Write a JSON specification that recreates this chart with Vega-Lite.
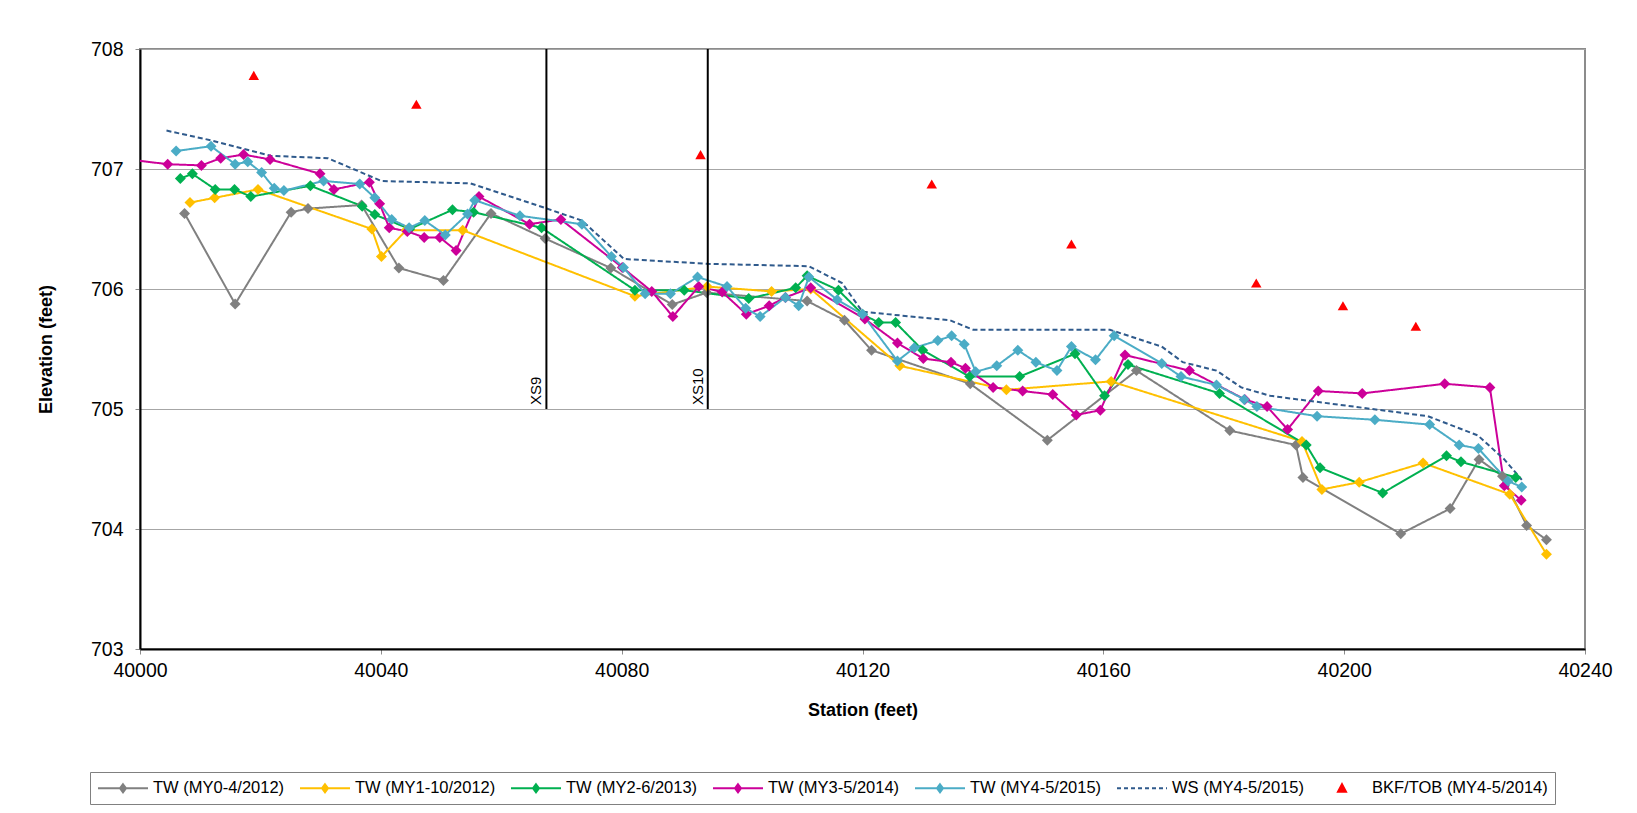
{
  "$schema": "https://vega.github.io/schema/vega-lite/v6.json",
  "width": 1445,
  "height": 600,
  "autosize": {"type": "none"},
  "padding": {"left": 140, "top": 49, "right": 52, "bottom": 164},
  "background": "white",
  "config": {
    "font": "Liberation Sans",
    "view": {"stroke": "#8c8c8c", "strokeWidth": 2},
    "axis": {"labelFont": "Liberation Sans", "titleFont": "Liberation Sans", "labelColor": "black", "titleColor": "black"}
  },
  "datasets": {
    "pts": [
      {"series": "TW (MY0-4/2012)", "station": 40007.4, "elev": 706.63},
      {"series": "TW (MY0-4/2012)", "station": 40015.8, "elev": 705.875},
      {"series": "TW (MY0-4/2012)", "station": 40025.1, "elev": 706.64},
      {"series": "TW (MY0-4/2012)", "station": 40027.9, "elev": 706.67},
      {"series": "TW (MY0-4/2012)", "station": 40036.8, "elev": 706.70},
      {"series": "TW (MY0-4/2012)", "station": 40043.0, "elev": 706.175},
      {"series": "TW (MY0-4/2012)", "station": 40050.4, "elev": 706.07},
      {"series": "TW (MY0-4/2012)", "station": 40058.3, "elev": 706.63},
      {"series": "TW (MY0-4/2012)", "station": 40067.3, "elev": 706.42},
      {"series": "TW (MY0-4/2012)", "station": 40078.2, "elev": 706.175},
      {"series": "TW (MY0-4/2012)", "station": 40088.4, "elev": 705.87},
      {"series": "TW (MY0-4/2012)", "station": 40094.1, "elev": 705.97},
      {"series": "TW (MY0-4/2012)", "station": 40110.8, "elev": 705.90},
      {"series": "TW (MY0-4/2012)", "station": 40117.0, "elev": 705.74},
      {"series": "TW (MY0-4/2012)", "station": 40121.5, "elev": 705.49},
      {"series": "TW (MY0-4/2012)", "station": 40137.9, "elev": 705.21},
      {"series": "TW (MY0-4/2012)", "station": 40150.7, "elev": 704.74},
      {"series": "TW (MY0-4/2012)", "station": 40165.5, "elev": 705.32},
      {"series": "TW (MY0-4/2012)", "station": 40181.0, "elev": 704.82},
      {"series": "TW (MY0-4/2012)", "station": 40192.0, "elev": 704.70},
      {"series": "TW (MY0-4/2012)", "station": 40193.15, "elev": 704.43},
      {"series": "TW (MY0-4/2012)", "station": 40209.4, "elev": 703.96},
      {"series": "TW (MY0-4/2012)", "station": 40217.6, "elev": 704.17},
      {"series": "TW (MY0-4/2012)", "station": 40222.4, "elev": 704.58},
      {"series": "TW (MY0-4/2012)", "station": 40226.3, "elev": 704.44},
      {"series": "TW (MY0-4/2012)", "station": 40230.3, "elev": 704.03},
      {"series": "TW (MY0-4/2012)", "station": 40233.6, "elev": 703.91},

      {"series": "TW (MY1-10/2012)", "station": 40008.3, "elev": 706.72},
      {"series": "TW (MY1-10/2012)", "station": 40012.4, "elev": 706.76},
      {"series": "TW (MY1-10/2012)", "station": 40019.6, "elev": 706.83},
      {"series": "TW (MY1-10/2012)", "station": 40038.5, "elev": 706.50},
      {"series": "TW (MY1-10/2012)", "station": 40040.1, "elev": 706.27},
      {"series": "TW (MY1-10/2012)", "station": 40044.2, "elev": 706.49},
      {"series": "TW (MY1-10/2012)", "station": 40053.6, "elev": 706.49},
      {"series": "TW (MY1-10/2012)", "station": 40082.2, "elev": 705.94},
      {"series": "TW (MY1-10/2012)", "station": 40094.2, "elev": 706.02},
      {"series": "TW (MY1-10/2012)", "station": 40104.9, "elev": 705.98},
      {"series": "TW (MY1-10/2012)", "station": 40111.4, "elev": 706.00},
      {"series": "TW (MY1-10/2012)", "station": 40126.2, "elev": 705.36},
      {"series": "TW (MY1-10/2012)", "station": 40143.9, "elev": 705.16},
      {"series": "TW (MY1-10/2012)", "station": 40161.3, "elev": 705.23},
      {"series": "TW (MY1-10/2012)", "station": 40193.0, "elev": 704.73},
      {"series": "TW (MY1-10/2012)", "station": 40196.3, "elev": 704.33},
      {"series": "TW (MY1-10/2012)", "station": 40202.5, "elev": 704.39},
      {"series": "TW (MY1-10/2012)", "station": 40213.1, "elev": 704.55},
      {"series": "TW (MY1-10/2012)", "station": 40227.5, "elev": 704.29},
      {"series": "TW (MY1-10/2012)", "station": 40233.6, "elev": 703.79},

      {"series": "TW (MY2-6/2013)", "station": 40006.7, "elev": 706.92},
      {"series": "TW (MY2-6/2013)", "station": 40008.7, "elev": 706.96},
      {"series": "TW (MY2-6/2013)", "station": 40012.5, "elev": 706.83},
      {"series": "TW (MY2-6/2013)", "station": 40015.7, "elev": 706.83},
      {"series": "TW (MY2-6/2013)", "station": 40018.4, "elev": 706.77},
      {"series": "TW (MY2-6/2013)", "station": 40028.3, "elev": 706.86},
      {"series": "TW (MY2-6/2013)", "station": 40036.9, "elev": 706.69},
      {"series": "TW (MY2-6/2013)", "station": 40039.0, "elev": 706.62},
      {"series": "TW (MY2-6/2013)", "station": 40044.8, "elev": 706.50},
      {"series": "TW (MY2-6/2013)", "station": 40051.9, "elev": 706.66},
      {"series": "TW (MY2-6/2013)", "station": 40055.4, "elev": 706.64},
      {"series": "TW (MY2-6/2013)", "station": 40066.7, "elev": 706.51},
      {"series": "TW (MY2-6/2013)", "station": 40082.2, "elev": 705.99},
      {"series": "TW (MY2-6/2013)", "station": 40090.4, "elev": 705.99},
      {"series": "TW (MY2-6/2013)", "station": 40101.1, "elev": 705.92},
      {"series": "TW (MY2-6/2013)", "station": 40108.9, "elev": 706.01},
      {"series": "TW (MY2-6/2013)", "station": 40110.8, "elev": 706.11},
      {"series": "TW (MY2-6/2013)", "station": 40116.0, "elev": 705.99},
      {"series": "TW (MY2-6/2013)", "station": 40120.0, "elev": 705.79},
      {"series": "TW (MY2-6/2013)", "station": 40122.7, "elev": 705.72},
      {"series": "TW (MY2-6/2013)", "station": 40125.5, "elev": 705.72},
      {"series": "TW (MY2-6/2013)", "station": 40130.0, "elev": 705.49},
      {"series": "TW (MY2-6/2013)", "station": 40137.8, "elev": 705.27},
      {"series": "TW (MY2-6/2013)", "station": 40146.1, "elev": 705.27},
      {"series": "TW (MY2-6/2013)", "station": 40155.3, "elev": 705.46},
      {"series": "TW (MY2-6/2013)", "station": 40160.2, "elev": 705.11},
      {"series": "TW (MY2-6/2013)", "station": 40164.1, "elev": 705.37},
      {"series": "TW (MY2-6/2013)", "station": 40179.3, "elev": 705.13},
      {"series": "TW (MY2-6/2013)", "station": 40193.7, "elev": 704.70},
      {"series": "TW (MY2-6/2013)", "station": 40196.0, "elev": 704.51},
      {"series": "TW (MY2-6/2013)", "station": 40206.4, "elev": 704.30},
      {"series": "TW (MY2-6/2013)", "station": 40217.0, "elev": 704.61},
      {"series": "TW (MY2-6/2013)", "station": 40219.4, "elev": 704.56},
      {"series": "TW (MY2-6/2013)", "station": 40228.5, "elev": 704.43},

      {"series": "TW (MY3-5/2014)", "station": 39998.0, "elev": 707.08},
      {"series": "TW (MY3-5/2014)", "station": 40004.6, "elev": 707.04},
      {"series": "TW (MY3-5/2014)", "station": 40010.2, "elev": 707.03},
      {"series": "TW (MY3-5/2014)", "station": 40013.4, "elev": 707.09},
      {"series": "TW (MY3-5/2014)", "station": 40017.2, "elev": 707.12},
      {"series": "TW (MY3-5/2014)", "station": 40021.6, "elev": 707.08},
      {"series": "TW (MY3-5/2014)", "station": 40029.9, "elev": 706.96},
      {"series": "TW (MY3-5/2014)", "station": 40032.2, "elev": 706.83},
      {"series": "TW (MY3-5/2014)", "station": 40038.1, "elev": 706.89},
      {"series": "TW (MY3-5/2014)", "station": 40039.8, "elev": 706.71},
      {"series": "TW (MY3-5/2014)", "station": 40041.4, "elev": 706.51},
      {"series": "TW (MY3-5/2014)", "station": 40044.4, "elev": 706.48},
      {"series": "TW (MY3-5/2014)", "station": 40047.2, "elev": 706.43},
      {"series": "TW (MY3-5/2014)", "station": 40049.8, "elev": 706.43},
      {"series": "TW (MY3-5/2014)", "station": 40052.5, "elev": 706.32},
      {"series": "TW (MY3-5/2014)", "station": 40056.3, "elev": 706.77},
      {"series": "TW (MY3-5/2014)", "station": 40064.7, "elev": 706.54},
      {"series": "TW (MY3-5/2014)", "station": 40069.9, "elev": 706.58},
      {"series": "TW (MY3-5/2014)", "station": 40080.1, "elev": 706.18},
      {"series": "TW (MY3-5/2014)", "station": 40085.0, "elev": 705.98},
      {"series": "TW (MY3-5/2014)", "station": 40088.5, "elev": 705.77},
      {"series": "TW (MY3-5/2014)", "station": 40092.8, "elev": 706.02},
      {"series": "TW (MY3-5/2014)", "station": 40096.7, "elev": 705.975},
      {"series": "TW (MY3-5/2014)", "station": 40100.7, "elev": 705.79},
      {"series": "TW (MY3-5/2014)", "station": 40104.5, "elev": 705.86},
      {"series": "TW (MY3-5/2014)", "station": 40107.2, "elev": 705.93},
      {"series": "TW (MY3-5/2014)", "station": 40111.4, "elev": 706.01},
      {"series": "TW (MY3-5/2014)", "station": 40120.4, "elev": 705.75},
      {"series": "TW (MY3-5/2014)", "station": 40125.8, "elev": 705.55},
      {"series": "TW (MY3-5/2014)", "station": 40130.1, "elev": 705.42},
      {"series": "TW (MY3-5/2014)", "station": 40134.7, "elev": 705.39},
      {"series": "TW (MY3-5/2014)", "station": 40137.1, "elev": 705.34},
      {"series": "TW (MY3-5/2014)", "station": 40141.7, "elev": 705.18},
      {"series": "TW (MY3-5/2014)", "station": 40146.6, "elev": 705.15},
      {"series": "TW (MY3-5/2014)", "station": 40151.6, "elev": 705.12},
      {"series": "TW (MY3-5/2014)", "station": 40155.5, "elev": 704.95},
      {"series": "TW (MY3-5/2014)", "station": 40159.5, "elev": 704.99},
      {"series": "TW (MY3-5/2014)", "station": 40163.6, "elev": 705.45},
      {"series": "TW (MY3-5/2014)", "station": 40174.3, "elev": 705.32},
      {"series": "TW (MY3-5/2014)", "station": 40183.5, "elev": 705.08},
      {"series": "TW (MY3-5/2014)", "station": 40187.2, "elev": 705.02},
      {"series": "TW (MY3-5/2014)", "station": 40190.6, "elev": 704.83},
      {"series": "TW (MY3-5/2014)", "station": 40195.7, "elev": 705.15},
      {"series": "TW (MY3-5/2014)", "station": 40203.0, "elev": 705.13},
      {"series": "TW (MY3-5/2014)", "station": 40216.7, "elev": 705.21},
      {"series": "TW (MY3-5/2014)", "station": 40224.2, "elev": 705.18},
      {"series": "TW (MY3-5/2014)", "station": 40226.6, "elev": 704.36},
      {"series": "TW (MY3-5/2014)", "station": 40229.4, "elev": 704.24},

      {"series": "TW (MY4-5/2015)", "station": 40006.0, "elev": 707.15},
      {"series": "TW (MY4-5/2015)", "station": 40011.8, "elev": 707.19},
      {"series": "TW (MY4-5/2015)", "station": 40015.8, "elev": 707.04},
      {"series": "TW (MY4-5/2015)", "station": 40017.9, "elev": 707.06},
      {"series": "TW (MY4-5/2015)", "station": 40020.2, "elev": 706.97},
      {"series": "TW (MY4-5/2015)", "station": 40022.3, "elev": 706.84},
      {"series": "TW (MY4-5/2015)", "station": 40023.9, "elev": 706.82},
      {"series": "TW (MY4-5/2015)", "station": 40030.5, "elev": 706.90},
      {"series": "TW (MY4-5/2015)", "station": 40036.5, "elev": 706.875},
      {"series": "TW (MY4-5/2015)", "station": 40039.0, "elev": 706.76},
      {"series": "TW (MY4-5/2015)", "station": 40041.8, "elev": 706.58},
      {"series": "TW (MY4-5/2015)", "station": 40044.7, "elev": 706.51},
      {"series": "TW (MY4-5/2015)", "station": 40047.3, "elev": 706.57},
      {"series": "TW (MY4-5/2015)", "station": 40050.7, "elev": 706.45},
      {"series": "TW (MY4-5/2015)", "station": 40054.4, "elev": 706.625},
      {"series": "TW (MY4-5/2015)", "station": 40055.6, "elev": 706.74},
      {"series": "TW (MY4-5/2015)", "station": 40063.1, "elev": 706.61},
      {"series": "TW (MY4-5/2015)", "station": 40073.4, "elev": 706.54},
      {"series": "TW (MY4-5/2015)", "station": 40078.3, "elev": 706.27},
      {"series": "TW (MY4-5/2015)", "station": 40080.3, "elev": 706.18},
      {"series": "TW (MY4-5/2015)", "station": 40083.9, "elev": 705.96},
      {"series": "TW (MY4-5/2015)", "station": 40088.1, "elev": 705.96},
      {"series": "TW (MY4-5/2015)", "station": 40092.6, "elev": 706.10},
      {"series": "TW (MY4-5/2015)", "station": 40097.5, "elev": 706.02},
      {"series": "TW (MY4-5/2015)", "station": 40100.6, "elev": 705.84},
      {"series": "TW (MY4-5/2015)", "station": 40103.0, "elev": 705.77},
      {"series": "TW (MY4-5/2015)", "station": 40107.2, "elev": 705.93},
      {"series": "TW (MY4-5/2015)", "station": 40109.4, "elev": 705.86},
      {"series": "TW (MY4-5/2015)", "station": 40111.1, "elev": 706.10},
      {"series": "TW (MY4-5/2015)", "station": 40115.8, "elev": 705.91},
      {"series": "TW (MY4-5/2015)", "station": 40120.0, "elev": 705.79},
      {"series": "TW (MY4-5/2015)", "station": 40125.8, "elev": 705.40},
      {"series": "TW (MY4-5/2015)", "station": 40128.6, "elev": 705.51},
      {"series": "TW (MY4-5/2015)", "station": 40132.5, "elev": 705.57},
      {"series": "TW (MY4-5/2015)", "station": 40134.8, "elev": 705.61},
      {"series": "TW (MY4-5/2015)", "station": 40136.9, "elev": 705.54},
      {"series": "TW (MY4-5/2015)", "station": 40138.8, "elev": 705.31},
      {"series": "TW (MY4-5/2015)", "station": 40142.3, "elev": 705.36},
      {"series": "TW (MY4-5/2015)", "station": 40145.8, "elev": 705.49},
      {"series": "TW (MY4-5/2015)", "station": 40148.8, "elev": 705.39},
      {"series": "TW (MY4-5/2015)", "station": 40152.3, "elev": 705.32},
      {"series": "TW (MY4-5/2015)", "station": 40154.7, "elev": 705.52},
      {"series": "TW (MY4-5/2015)", "station": 40158.7, "elev": 705.41},
      {"series": "TW (MY4-5/2015)", "station": 40161.8, "elev": 705.61},
      {"series": "TW (MY4-5/2015)", "station": 40169.7, "elev": 705.38},
      {"series": "TW (MY4-5/2015)", "station": 40172.9, "elev": 705.27},
      {"series": "TW (MY4-5/2015)", "station": 40178.8, "elev": 705.20},
      {"series": "TW (MY4-5/2015)", "station": 40183.4, "elev": 705.08},
      {"series": "TW (MY4-5/2015)", "station": 40185.5, "elev": 705.02},
      {"series": "TW (MY4-5/2015)", "station": 40195.5, "elev": 704.94},
      {"series": "TW (MY4-5/2015)", "station": 40205.1, "elev": 704.91},
      {"series": "TW (MY4-5/2015)", "station": 40214.2, "elev": 704.87},
      {"series": "TW (MY4-5/2015)", "station": 40219.1, "elev": 704.70},
      {"series": "TW (MY4-5/2015)", "station": 40222.3, "elev": 704.67},
      {"series": "TW (MY4-5/2015)", "station": 40227.2, "elev": 704.40},
      {"series": "TW (MY4-5/2015)", "station": 40229.5, "elev": 704.35},

      {"series": "WS (MY4-5/2015)", "station": 40004.4, "elev": 707.32},
      {"series": "WS (MY4-5/2015)", "station": 40011.7, "elev": 707.24},
      {"series": "WS (MY4-5/2015)", "station": 40021.7, "elev": 707.11},
      {"series": "WS (MY4-5/2015)", "station": 40031.2, "elev": 707.09},
      {"series": "WS (MY4-5/2015)", "station": 40040.1, "elev": 706.90},
      {"series": "WS (MY4-5/2015)", "station": 40054.9, "elev": 706.88},
      {"series": "WS (MY4-5/2015)", "station": 40067.3, "elev": 706.675},
      {"series": "WS (MY4-5/2015)", "station": 40073.4, "elev": 706.57},
      {"series": "WS (MY4-5/2015)", "station": 40080.4, "elev": 706.25},
      {"series": "WS (MY4-5/2015)", "station": 40094.2, "elev": 706.21},
      {"series": "WS (MY4-5/2015)", "station": 40111.1, "elev": 706.19},
      {"series": "WS (MY4-5/2015)", "station": 40116.6, "elev": 706.05},
      {"series": "WS (MY4-5/2015)", "station": 40120.0, "elev": 705.81},
      {"series": "WS (MY4-5/2015)", "station": 40134.5, "elev": 705.74},
      {"series": "WS (MY4-5/2015)", "station": 40138.4, "elev": 705.66},
      {"series": "WS (MY4-5/2015)", "station": 40161.1, "elev": 705.66},
      {"series": "WS (MY4-5/2015)", "station": 40169.7, "elev": 705.52},
      {"series": "WS (MY4-5/2015)", "station": 40173.2, "elev": 705.39},
      {"series": "WS (MY4-5/2015)", "station": 40178.8, "elev": 705.32},
      {"series": "WS (MY4-5/2015)", "station": 40182.9, "elev": 705.18},
      {"series": "WS (MY4-5/2015)", "station": 40187.7, "elev": 705.11},
      {"series": "WS (MY4-5/2015)", "station": 40213.9, "elev": 704.94},
      {"series": "WS (MY4-5/2015)", "station": 40222.2, "elev": 704.78},
      {"series": "WS (MY4-5/2015)", "station": 40226.6, "elev": 704.58},
      {"series": "WS (MY4-5/2015)", "station": 40229.5, "elev": 704.41},

      {"series": "BKF/TOB (MY4-5/2014)", "station": 40018.9, "elev": 707.78},
      {"series": "BKF/TOB (MY4-5/2014)", "station": 40045.9, "elev": 707.54},
      {"series": "BKF/TOB (MY4-5/2014)", "station": 40093.1, "elev": 707.12},
      {"series": "BKF/TOB (MY4-5/2014)", "station": 40131.5, "elev": 706.875},
      {"series": "BKF/TOB (MY4-5/2014)", "station": 40154.7, "elev": 706.375},
      {"series": "BKF/TOB (MY4-5/2014)", "station": 40185.4, "elev": 706.05},
      {"series": "BKF/TOB (MY4-5/2014)", "station": 40199.8, "elev": 705.86},
      {"series": "BKF/TOB (MY4-5/2014)", "station": 40211.9, "elev": 705.69}
    ],
    "xs": [
      {"label": "XS9", "station": 40067.5, "top": 708, "bottom": 705},
      {"label": "XS10", "station": 40094.3, "top": 708, "bottom": 705}
    ]
  },
  "layer": [
    {
      "data": {"name": "pts"},
      "encoding": {
        "x": {
          "field": "station", "type": "quantitative", "title": "Station (feet)",
          "scale": {"domain": [40000, 40240], "nice": false, "zero": false},
          "axis": {
            "values": [40000, 40040, 40080, 40120, 40160, 40200, 40240],
            "format": "d", "labelFontSize": 19.5, "labelPadding": 7, "tickSize": 5, "labelFlush": false,
            "tickColor": "#8c8c8c", "domainColor": "black", "domainWidth": 2, "grid": false,
            "titleFontSize": 18, "titleFontWeight": "bold", "titleBaseline": "middle", "titleY": 61
          }
        },
        "y": {
          "field": "elev", "type": "quantitative", "title": "Elevation (feet)",
          "scale": {"domain": [703, 708], "nice": false, "zero": false},
          "axis": {
            "values": [703, 704, 705, 706, 707, 708],
            "format": "d", "labelFontSize": 19.5, "labelPadding": 12, "tickSize": 5, "labelFlush": false,
            "tickColor": "#8c8c8c", "domainColor": "black", "domainWidth": 2,
            "grid": true, "gridColor": "#a6a6a6", "gridWidth": 1,
            "titleFontSize": 18, "titleFontWeight": "bold",
            "titleX": -94, "titleY": 300, "titleAngle": 270, "titleBaseline": "middle", "titleAlign": "center"
          }
        },
        "color": {
          "field": "series", "type": "nominal",
          "scale": {
            "domain": ["TW (MY0-4/2012)", "TW (MY1-10/2012)", "TW (MY2-6/2013)", "TW (MY3-5/2014)", "TW (MY4-5/2015)", "WS (MY4-5/2015)", "BKF/TOB (MY4-5/2014)"],
            "range": ["#808080", "#FFC000", "#00B050", "#CC0099", "#4BACC6", "#2F5A8C", "#FF0000"]
          },
          "legend": {
            "orient": "none", "legendX": -50, "legendY": 723, "direction": "horizontal", "title": null,
            "labelFont": "Liberation Sans", "labelFontSize": 16.5, "labelColor": "black", "labelLimit": 0,
            "symbolSize": 256, "symbolStrokeWidth": 2, "labelOffset": 38, "columnPadding": 11,
            "padding": 7, "strokeColor": "#808080", "fillColor": "white",
            "encode": {
              "symbols": {
                "update": {
                  "shape": {"signal": "datum.value === 'WS (MY4-5/2015)' ? 'M-1,0L-0.5,0M-0.125,0L0.375,0M0.75,0L1.25,0M1.625,0L2.125,0M2.5,0L3,0M3.375,0L3.875,0M4.25,0L4.75,0M5.125,0L5.25,0' : datum.value === 'BKF/TOB (MY4-5/2014)' ? 'M2.125,-0.5L2.625,0.45L1.625,0.45Z' : 'M-1,0L5.25,0M2.125,-0.5L2.5,0L2.125,0.5L1.75,0Z'"},
                  "stroke": {"scale": "color", "field": "value"},
                  "fill": {"scale": "color", "field": "value"},
                  "strokeWidth": {"value": 2},
                  "size": {"value": 256},
                  "opacity": {"value": 1}
                }
              }
            }
          }
        }
      },
      "layer": [
        {
          "transform": [{"filter": "datum.series !== 'BKF/TOB (MY4-5/2014)'"}],
          "mark": {"type": "line", "strokeWidth": 2, "clip": true},
          "encoding": {
            "strokeDash": {
              "field": "series", "type": "nominal", "legend": null,
              "scale": {
                "domain": ["TW (MY0-4/2012)", "TW (MY1-10/2012)", "TW (MY2-6/2013)", "TW (MY3-5/2014)", "TW (MY4-5/2015)", "WS (MY4-5/2015)"],
                "range": [[1, 0], [1, 0], [1, 0], [1, 0], [1, 0], [5, 3]]
              }
            }
          }
        },
        {
          "transform": [{"filter": "indexof(datum.series, 'TW') === 0"}],
          "mark": {"type": "point", "shape": "diamond", "filled": true, "size": 120, "opacity": 1, "clip": true}
        },
        {
          "transform": [{"filter": "datum.series === 'BKF/TOB (MY4-5/2014)'"}],
          "mark": {"type": "point", "shape": "triangle-up", "filled": true, "size": 110, "opacity": 1}
        }
      ]
    },
    {
      "data": {"name": "xs"},
      "layer": [
        {
          "mark": {"type": "rule", "color": "black", "strokeWidth": 2},
          "encoding": {
            "x": {"field": "station", "type": "quantitative", "title": "Station (feet)"},
            "y": {"field": "top", "type": "quantitative", "title": "Elevation (feet)"},
            "y2": {"field": "bottom"}
          }
        },
        {
          "mark": {"type": "text", "angle": 270, "align": "left", "baseline": "bottom", "dx": 4, "dy": -2, "fontSize": 15, "color": "black", "font": "Liberation Sans"},
          "encoding": {
            "x": {"field": "station", "type": "quantitative", "title": "Station (feet)"},
            "y": {"field": "bottom", "type": "quantitative", "title": "Elevation (feet)"},
            "text": {"field": "label"}
          }
        }
      ]
    }
  ]
}
